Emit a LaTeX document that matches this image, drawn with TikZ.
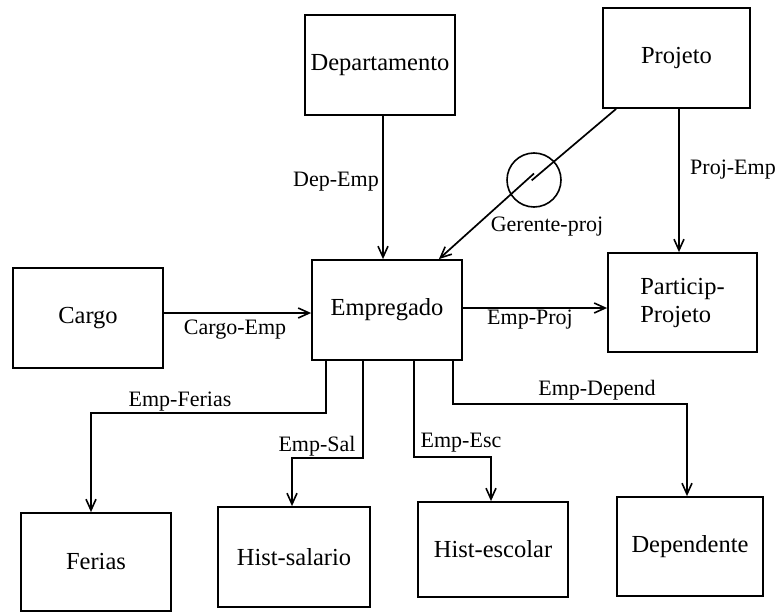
\documentclass[tikz,border=0pt]{standalone}
\usepackage{fontspec}
\setmainfont{Liberation Serif}
\usetikzlibrary{arrows.meta,calc}
\begin{document}
\begin{tikzpicture}[x=1pt,y=-1pt,
  ent/.style={draw, line width=1.8pt, rectangle, inner sep=0pt, minimum width=150pt, minimum height=100pt, font=\fontsize{24.5}{28}\selectfont, align=center},
  lbl/.style={font=\fontsize{22}{24}\selectfont, inner sep=0pt},
  conn/.style={line width=1.7pt},
  arr/.style={conn, -{Straight Barb[length=11pt,width=10pt,line width=1.6pt]}}
]
\useasboundingbox (0,0) rectangle (780,613);
% entities
\node[ent] (dep) at (380,65) {Departamento};
\node[ent, minimum width=147pt] (proj) at (676.5,58) {Projeto};
\node[ent] (cargo) at (88,318) {Cargo};
\node[ent] (emp) at (387,310) {Empregado};
\node[ent, minimum width=149pt, minimum height=99pt, align=left] (part) at (682.5,302.5) {Particip-\\Projeto};
\node[ent, minimum height=98pt] (ferias) at (96,562) {Ferias};
\node[ent, minimum width=152pt] (hsal) at (294,557) {Hist-salario};
\node[ent, minimum height=95pt] (hesc) at (493,549.5) {Hist-escolar};
\node[ent, minimum width=146pt, minimum height=99pt] (dpd) at (690,546.5) {Dependente};
% relationship symbol
\node[draw, circle, line width=1.6pt, minimum size=54pt, inner sep=0pt] (gc) at (534,180) {};
\coordinate (gs) at ($(proj.south west)+(14,0)$);
\coordinate (ge) at ($(emp.north east)+(-24,0)$);
\coordinate (g1) at (531.7,180.4);
\coordinate (g2) at (534,173.5);
% connectors
\draw[arr] ($(dep.south)+(3,0)$) -- ($(emp.north)+(-4,0)$);
\draw[arr] ($(proj.south)+(2.5,0)$) -- ($(part.north)+(-3.5,0)$);
\draw[conn] (gs) -- (g1);
\draw[arr] (g2) -- (ge);
\draw[arr] ($(cargo.east)+(0,-5)$) -- ($(emp.west)+(0,3)$);
\draw[arr] ($(emp.east)+(0,-2)$) -- ($(part.west)+(0,5.5)$);
\draw[arr] ($(emp.south west)+(15,0)$) -- ++(0,52) -| ($(ferias.north)+(-5,0)$);
\draw[arr] ($(emp.south west)+(52,0)$) -- ++(0,97) -| ($(hsal.north)+(-2,0)$);
\draw[arr] ($(emp.south)+(27,0)$) -- ++(0,96) -| ($(hesc.north)+(-2,0)$);
\draw[arr] ($(emp.south east)+(-10,0)$) -- ++(0,43) -| ($(dpd.north)+(-3,0)$);
% labels
\node[lbl] (l1) at (336,182) {Dep-Emp};
\node[lbl] (l2) at (733,170) {Proj-Emp};
\node[lbl] (l3) at (547,227) {Gerente-proj};
\node[lbl] (l4) at (235,330) {Cargo-Emp};
\node[lbl] (l5) at (530,320) {Emp-Proj};
\node[lbl] (l6) at (180,402) {Emp-Ferias};
\node[lbl] (l7) at (317,446) {Emp-Sal};
\node[lbl] (l8) at (461,443) {Emp-Esc};
\node[lbl] (l9) at (597,390) {Emp-Depend};
\end{tikzpicture}
\end{document}
